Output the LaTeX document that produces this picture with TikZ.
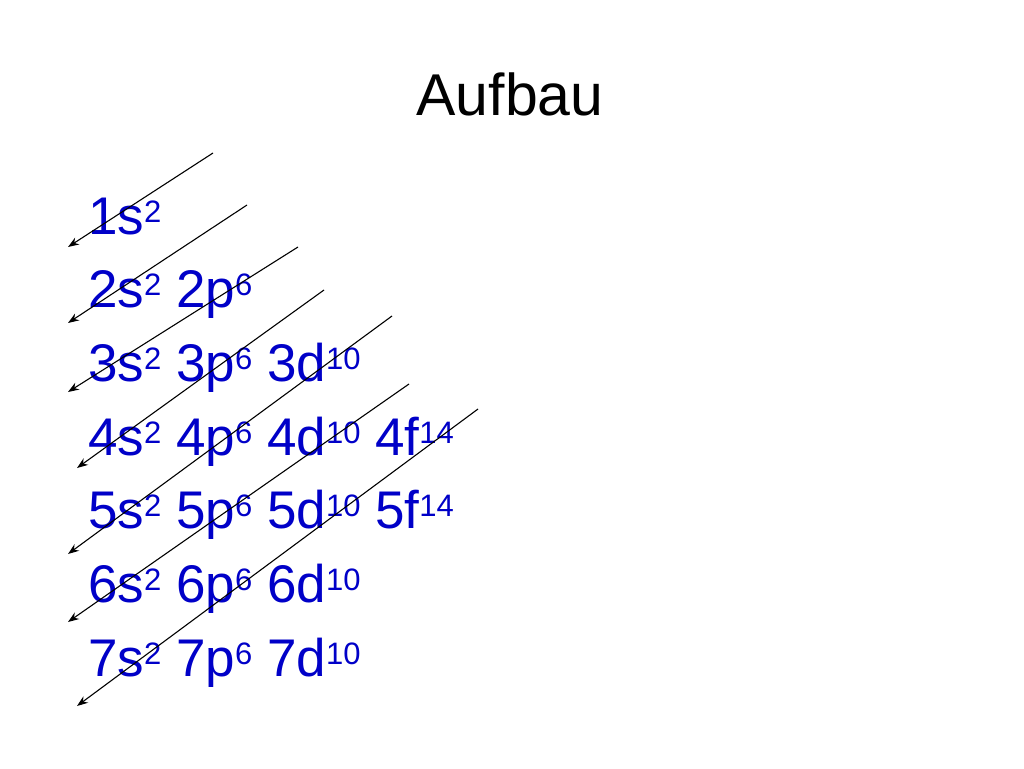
\documentclass[tikz,border=0pt]{standalone}
\usepackage{fontspec}
\setmainfont{Liberation Sans}
\usetikzlibrary{arrows.meta}
\definecolor{orbblue}{RGB}{0,0,200}
\newcommand{\ssup}[1]{\raisebox{12pt}{\fontsize{31}{33}\selectfont #1}}
\tikzset{
  row/.style={anchor=base west, inner sep=0pt, text=orbblue, font=\fontsize{53}{60}\selectfont},
  diag/.style={draw=black, line width=1.1pt, -{Stealth[length=11pt,width=8pt]}}
}
\begin{document}
\begin{tikzpicture}[x=1pt,y=-1pt]
\useasboundingbox[fill=white] (0,0) rectangle (1024,768);
\node[anchor=base, inner sep=0pt, font=\fontsize{59}{64}\selectfont] (title) at (510,115) {Aufbau};
\node[row] (r1) at (88,234) {1s\ssup{2}};
\node[row] (r2) at (88,307) {2s\ssup{2} 2p\ssup{6}};
\node[row] (r3) at (88,381) {3s\ssup{2} 3p\ssup{6} 3d\ssup{10}};
\node[row] (r4) at (88,455) {4s\ssup{2} 4p\ssup{6} 4d\ssup{10} 4f\ssup{14}};
\node[row] (r5) at (88,528) {5s\ssup{2} 5p\ssup{6} 5d\ssup{10} 5f\ssup{14}};
\node[row] (r6) at (88,602) {6s\ssup{2} 6p\ssup{6} 6d\ssup{10}};
\node[row] (r7) at (88,676) {7s\ssup{2} 7p\ssup{6} 7d\ssup{10}};
\coordinate (a1) at (213,153); \coordinate (b1) at (68,247);
\coordinate (a2) at (247,205); \coordinate (b2) at (68,323);
\coordinate (a3) at (298,247); \coordinate (b3) at (68,392);
\coordinate (a4) at (324,290); \coordinate (b4) at (77,468);
\coordinate (a5) at (392,316); \coordinate (b5) at (68,554);
\coordinate (a6) at (409,384); \coordinate (b6) at (68,622);
\coordinate (a7) at (478,409); \coordinate (b7) at (77,706);
\foreach \i in {1,...,7} \draw[diag] (a\i) -- (b\i);
\end{tikzpicture}
\end{document}
